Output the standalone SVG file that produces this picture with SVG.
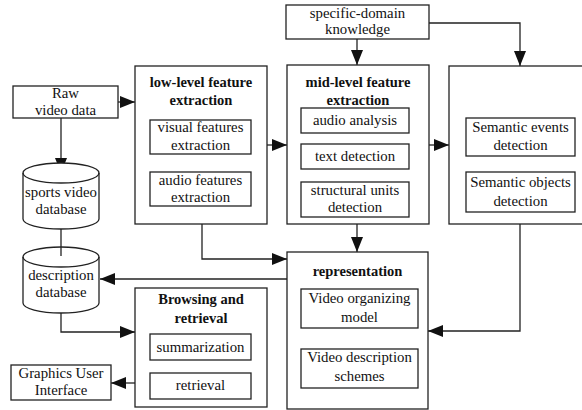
<svg xmlns="http://www.w3.org/2000/svg" width="582" height="410" viewBox="0 0 582 410">
<defs>
<style>
rect,.cyl{fill:#fff;stroke:#222;stroke-width:1.3}
rect.bg{fill:#fff;stroke:none}
text{font-family:"Liberation Serif","Times New Roman",serif;font-size:14.8px;fill:#111;text-anchor:middle}
.b{font-weight:bold;font-size:14.5px}
.c{fill:none;stroke:#222;stroke-width:1.3}
</style>
<marker id="ah" markerUnits="userSpaceOnUse" markerWidth="16" markerHeight="12" refX="15" refY="6" orient="auto">
<path d="M0,0 L15,6 L0,12 Z" fill="#111"/>
</marker>
</defs>
<rect class="bg" width="582" height="410"/>
<g id="connectors">
<path class="c" d="M118,102 H135" marker-end="url(#ah)"/>
<path class="c" d="M61,118 V173" marker-end="url(#ah)"/>
<path class="c" d="M267,145 H287" marker-end="url(#ah)"/>
<path class="c" d="M429,145 H449" marker-end="url(#ah)"/>
<path class="c" d="M357,39 V65" marker-end="url(#ah)"/>
<path class="c" d="M429,23 H520 V66" marker-end="url(#ah)"/>
<path class="c" d="M357,224 V252" marker-end="url(#ah)"/>
<path class="c" d="M520,224 V331 H428" marker-end="url(#ah)"/>
<path class="c" d="M202,224 V259 H287" marker-end="url(#ah)"/>
<path class="c" d="M287,279 H100" marker-end="url(#ah)"/>
<path class="c" d="M61,313 V332 H135" marker-end="url(#ah)"/>
<path class="c" d="M135,383 H111" marker-end="url(#ah)"/>
<path class="c" d="M61,229 V256"/>
</g>
<g id="raw">
<rect x="13" y="86" width="105" height="32"/>
<text x="65.5" y="98">Raw</text>
<text x="65.5" y="115">video data</text>
</g>
<g id="sportsdb">
<path class="cyl" d="M23,173 A38,10 0 0,1 99,173 V219 A38,10 0 0,1 23,219 Z"/>
<path class="c" d="M23,173 A38,10 0 0,0 99,173"/>
<text x="61" y="197">sports video</text>
<text x="61" y="214">database</text>
</g>
<g id="descdb">
<path class="cyl" d="M23,257 A38,10 0 0,1 99,257 V303 A38,10 0 0,1 23,303 Z"/>
<path class="c" d="M23,257 A38,10 0 0,0 99,257"/>
<line class="c" x1="61" y1="247" x2="61" y2="256"/>
<text x="61" y="280">description</text>
<text x="61" y="297">database</text>
</g>
<g id="lowlevel">
<rect x="135" y="66" width="132" height="158"/>
<text class="b" x="201" y="87">low-level feature</text>
<text class="b" x="201" y="105">extraction</text>
<rect x="150" y="120" width="101" height="34"/>
<text x="200.5" y="132">visual features</text>
<text x="200.5" y="150">extraction</text>
<rect x="150" y="172" width="101" height="34"/>
<text x="200.5" y="185">audio features</text>
<text x="200.5" y="202">extraction</text>
</g>
<g id="specific">
<rect x="286" y="5" width="143" height="34"/>
<text x="357.5" y="18">specific-domain</text>
<text x="357.5" y="34">knowledge</text>
</g>
<g id="midlevel">
<rect x="287" y="65" width="142" height="159"/>
<text class="b" x="358" y="87">mid-level feature</text>
<text class="b" x="358" y="105">extraction</text>
<rect x="301" y="108" width="108" height="25"/>
<text x="355" y="125">audio analysis</text>
<rect x="301" y="144" width="108" height="25"/>
<text x="355" y="161">text detection</text>
<rect x="301" y="182" width="108" height="35"/>
<text x="355" y="195">structural units</text>
<text x="355" y="212">detection</text>
</g>
<g id="semantic">
<rect x="449" y="66" width="145" height="158"/>
<rect x="466" y="118" width="109" height="38"/>
<text x="520.5" y="132">Semantic events</text>
<text x="520.5" y="150">detection</text>
<rect x="466" y="172" width="109" height="40"/>
<text x="520.5" y="187">Semantic objects</text>
<text x="520.5" y="206">detection</text>
</g>
<g id="representation">
<rect x="287" y="252" width="141" height="157"/>
<text class="b" x="357.5" y="276">representation</text>
<rect x="301" y="289" width="117" height="39"/>
<text x="359.5" y="303">Video organizing</text>
<text x="359.5" y="322">model</text>
<rect x="301" y="349" width="117" height="39"/>
<text x="359.5" y="362">Video description</text>
<text x="359.5" y="381">schemes</text>
</g>
<g id="browsing">
<rect x="135" y="288" width="132" height="119"/>
<text class="b" x="201" y="304">Browsing and</text>
<text class="b" x="201" y="323">retrieval</text>
<rect x="150" y="334" width="101" height="26"/>
<text x="200.5" y="352">summarization</text>
<rect x="150" y="373" width="101" height="26"/>
<text x="200.5" y="390">retrieval</text>
</g>
<g id="gui">
<rect x="11" y="365" width="100" height="35"/>
<text x="61" y="378">Graphics User</text>
<text x="61" y="395">Interface</text>
</g>
</svg>
